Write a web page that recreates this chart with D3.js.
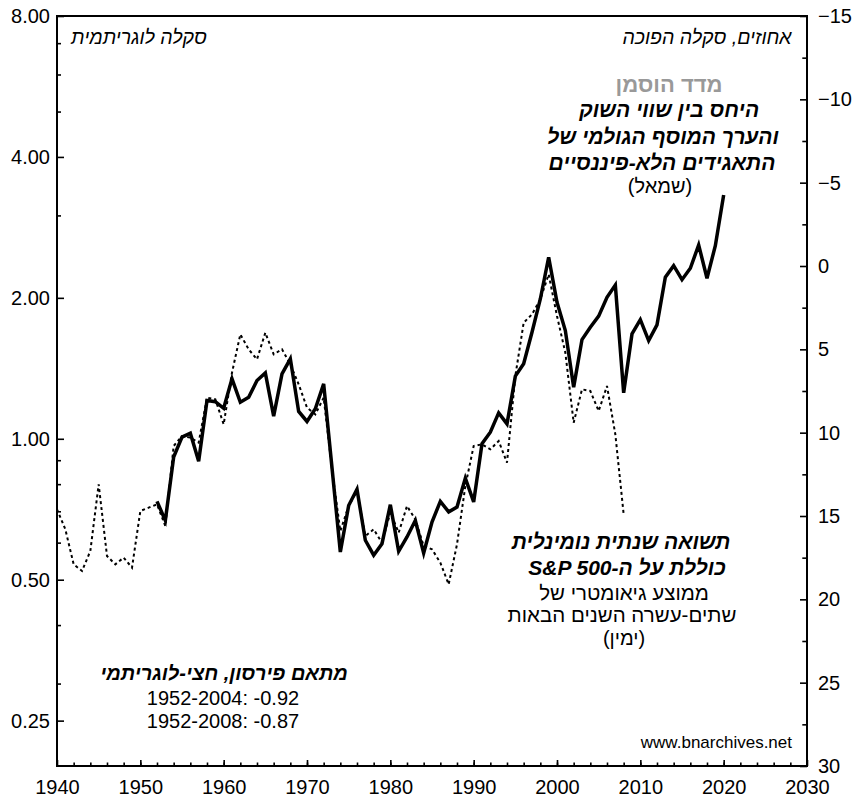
<!DOCTYPE html>
<html>
<head>
<meta charset="utf-8">
<script src="https://cdn.jsdelivr.net/npm/d3@7"></script>
<style>
	body { margin: 0; background: #fff; }
	svg { display: block; font-family: 'Liberation Sans', Arial, sans-serif; }
	.axis path.domain { display: none; }
	.axis line { stroke: #000; stroke-width: 1.6; }
	.axis text { font-size: 20px; fill: #000; font-family: 'Liberation Sans', Arial, sans-serif; }
</style>
</head>
<body>
<svg id="chart" width="855" height="799"></svg>
<script>
// Hosman index: market cap / gross value added of non-financial corporations (left, log)
var hosmanYears = [1952, 1953, 1954, 1955, 1956, 1957, 1958, 1959, 1960, 1961, 1962, 1963, 1964, 1965, 1966, 1967,
	1968, 1969, 1970, 1971, 1972, 1973, 1974, 1975, 1976, 1977, 1978, 1979, 1980, 1981, 1982, 1983, 1984, 1985,
	1986, 1987, 1988, 1989, 1990, 1991, 1992, 1993, 1994, 1995, 1996, 1997, 1998, 1999, 2000, 2001, 2002, 2003,
	2004, 2005, 2006, 2007, 2008, 2009, 2010, 2011, 2012, 2013, 2014, 2015, 2016, 2017, 2018, 2019, 2020];
var hosmanValues = [0.735, 0.669, 0.914, 1.008, 1.028, 0.895, 1.207, 1.200, 1.162, 1.343, 1.197, 1.227, 1.332, 1.383,
	1.118, 1.376, 1.482, 1.144, 1.089, 1.159, 1.310, 0.867, 0.573, 0.720, 0.780, 0.607, 0.564, 0.597, 0.723, 0.575,
	0.617, 0.669, 0.570, 0.664, 0.735, 0.698, 0.715, 0.824, 0.733, 0.976, 1.033, 1.136, 1.076, 1.361, 1.446, 1.689,
	1.989, 2.442, 1.957, 1.703, 1.289, 1.629, 1.731, 1.828, 2.006, 2.130, 1.254, 1.675, 1.797, 1.621, 1.751, 2.213,
	2.343, 2.187, 2.313, 2.594, 2.202, 2.585, 3.316];

// S&P 500 nominal total return, geometric mean of the next twelve years (right, inverted, %)
var spYears = [1940, 1941, 1942, 1943, 1944, 1945, 1946, 1947, 1948, 1949, 1950, 1951, 1952, 1953, 1954, 1955, 1956,
	1957, 1958, 1959, 1960, 1961, 1962, 1963, 1964, 1965, 1966, 1967, 1968, 1969, 1970, 1971, 1972, 1973, 1974,
	1975, 1976, 1977, 1978, 1979, 1980, 1981, 1982, 1983, 1984, 1985, 1986, 1987, 1988, 1989, 1990, 1991, 1992,
	1993, 1994, 1995, 1996, 1997, 1998, 1999, 2000, 2001, 2002, 2003, 2004, 2005, 2006, 2007, 2008];
var spReturns = [14.6, 15.8, 17.9, 18.3, 17.1, 13.1, 17.4, 17.9, 17.5, 18.1, 14.7, 14.5, 14.3, 15.6, 10.8, 10.2, 10.3,
	10.6, 7.9, 8.0, 9.5, 6.4, 4.1, 5.0, 5.6, 4.0, 5.3, 5.0, 5.9, 7.1, 8.5, 8.9, 7.9, 12.2, 15.9,
	14.4, 13.5, 16.2, 15.8, 16.6, 14.8, 16.0, 14.4, 15.2, 16.8, 17.0, 17.8, 19.1, 16.7, 13.2, 10.8, 10.7, 11.0,
	10.5, 11.8, 6.6, 3.4, 2.9, 2.0, 0.5, 3.0, 5.2, 9.4, 7.4, 7.5, 8.7, 7.2, 10.1, 14.9];

var leftTicks = [0.25, 0.5, 1, 2, 4, 8];
var leftMinorTicks = [0.3, 0.4, 0.6, 0.7, 0.8, 0.9, 3, 5, 6, 7];
var rightTicks = [-15, -10, -5, 0, 5, 10, 15, 20, 25, 30];
var yearTicks = [1940, 1950, 1960, 1970, 1980, 1990, 2000, 2010, 2020, 2030];

(function(d3) {
	'use strict';

	var svg = d3.select('#chart');
	var left = 57, right = 807, top = 16, bottom = 766;

	var x = d3.scaleLinear().domain([1940, 2030]).range([left, right]);
	var yLeft = d3.scaleLog().domain([0.2, 8]).range([bottom, top]);
	var yRight = d3.scaleLinear().domain([-15, 30]).range([top, bottom]);

	/** axes */
	svg.append('g').attr('class', 'axis').attr('transform', 'translate(' + left + ',0)')
		.call(d3.axisLeft(yLeft).tickValues(leftTicks).tickFormat(d3.format('.2f'))
			.tickSizeInner(-7).tickSizeOuter(0).tickPadding(7));
	svg.append('g').attr('class', 'axis').attr('transform', 'translate(' + left + ',0)')
		.call(d3.axisLeft(yLeft).tickValues(leftMinorTicks).tickFormat('').tickSizeInner(-4).tickSizeOuter(0));

	svg.append('g').attr('class', 'axis').attr('transform', 'translate(' + right + ',0)')
		.call(d3.axisRight(yRight).tickValues(rightTicks).tickSizeInner(-7).tickSizeOuter(0).tickPadding(11));
	svg.append('g').attr('class', 'axis').attr('transform', 'translate(' + right + ',0)')
		.call(d3.axisRight(yRight).tickValues(d3.range(-12.5, 30, 5)).tickFormat('').tickSizeInner(-4.7).tickSizeOuter(0));

	svg.append('g').attr('class', 'axis').attr('transform', 'translate(0,' + bottom + ')')
		.call(d3.axisBottom(x).tickValues(yearTicks).tickFormat(d3.format('d'))
			.tickSizeInner(-6).tickSizeOuter(0).tickPadding(14));
	svg.append('g').attr('class', 'axis').attr('transform', 'translate(0,' + bottom + ')')
		.call(d3.axisBottom(x).tickValues(d3.range(1942, 2030, 2)).tickFormat('').tickSizeInner(-3.5).tickSizeOuter(0));

	svg.append('rect')
		.attr('x', left).attr('y', top)
		.attr('width', right - left).attr('height', bottom - top)
		.attr('fill', 'none').attr('stroke', '#000').attr('stroke-width', 2);

	/** series */
	var spLine = d3.line()
		.x(function(d, i) { return x(spYears[i]); })
		.y(function(d) { return yRight(d); });
	svg.append('path').datum(spReturns)
		.attr('d', spLine)
		.attr('fill', 'none').attr('stroke', '#000')
		.attr('stroke-width', 2).attr('stroke-dasharray', '3,3');

	var hosmanLine = d3.line()
		.x(function(d, i) { return x(hosmanYears[i]); })
		.y(function(d) { return yLeft(d); });
	svg.append('path').datum(hosmanValues)
		.attr('d', hosmanLine)
		.attr('fill', 'none').attr('stroke', '#000')
		.attr('stroke-width', 3.5).attr('stroke-linejoin', 'miter');

	/** labels */
	var label = function(txt, cx, cy, opts) {
		opts = opts || {};
		var t = svg.append('text')
			.attr('x', cx).attr('y', cy)
			.attr('text-anchor', opts.anchor || 'middle')
			.attr('font-size', opts.size || 21)
			.attr('fill', opts.color || '#000')
			.text(txt);
		if (opts.rtl !== false) {
			t.attr('direction', 'rtl').style('unicode-bidi', 'embed');
		}
		if (opts.bold) { t.attr('font-weight', 'bold'); }
		if (opts.italic) { t.attr('font-style', 'italic'); }
		return t;
	};

	label('סקלה לוגריתמית', 139, 44, { italic: true, size: 19.5 });
	label('אחוזים, סקלה הפוכה', 707, 44, { italic: true, size: 19.5 });

	label('מדד הוסמן', 669, 92, { bold: true, size: 22, color: '#999' });
	label('היחס בין שווי השוק', 669, 117, { bold: true, italic: true });
	label('והערך המוסף הגולמי של', 663, 144, { bold: true, italic: true });
	label('התאגידים הלא-פיננסיים', 662, 170, { bold: true, italic: true });
	label('(שמאל)', 660, 193, { size: 20 });

	label('תשואה שנתית נומינלית', 621, 549, { bold: true, italic: true });
	label('כוללת על ה-S&P 500', 627, 575, { bold: true, italic: true });
	label('ממוצע גיאומטרי של', 624, 600, { size: 20.5 });
	label('שתים-עשרה השנים הבאות', 622, 622, { size: 20.5 });
	label('(ימין)', 624, 645, { size: 20 });

	label('מתאם פירסון, חצי-לוגריתמי', 224, 680, { bold: true, italic: true, size: 20 });
	label('1952-2004: -0.92', 223, 705, { rtl: false, size: 20 });
	label('1952-2008: -0.87', 223, 728, { rtl: false, size: 20 });

	label('www.bnarchives.net', 792, 748, { rtl: false, anchor: 'end', size: 17 });
})(d3);
</script>
</body>
</html>
